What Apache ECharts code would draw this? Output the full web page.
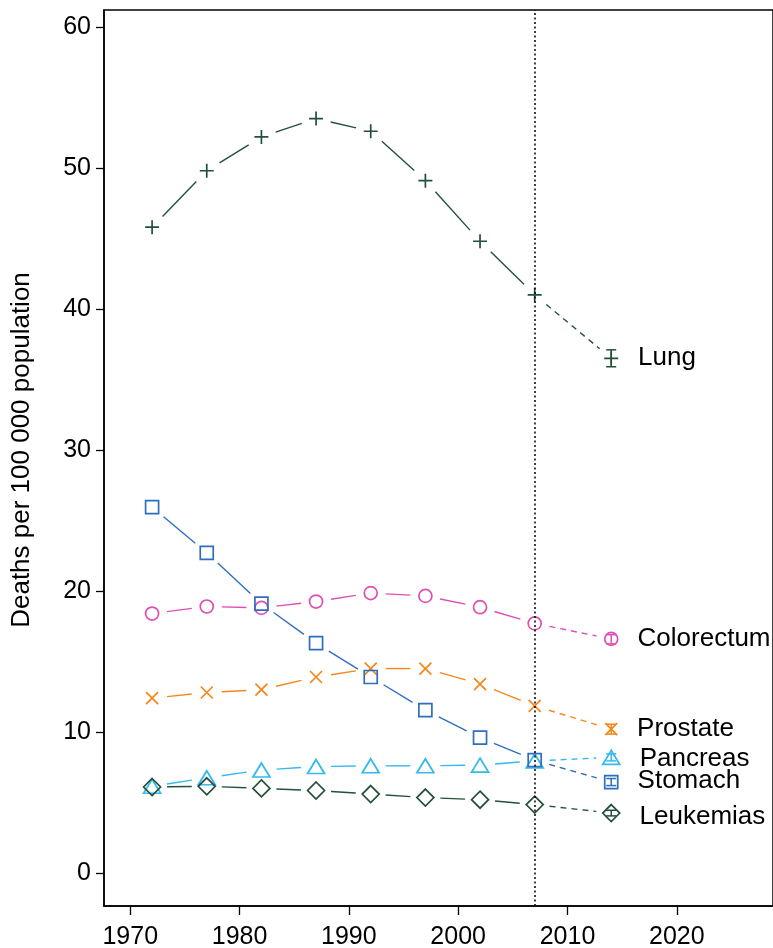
<!doctype html>
<html>
<head>
    <title>Cancer mortality trends</title>
    <script src="https://cdnjs.cloudflare.com/ajax/libs/echarts/6.0.0/echarts.min.js"></script>
</head>
<style>
    html, body {
        margin: 0;
        padding: 0;
        background: #fff;
    }
    #EChartParent {
        width: 773px;
        height: 948px;
    }
</style>
<body>
<div id="EChartParent"></div>
<script>
  // observed years and the projected year
  var years = [1972, 1977, 1982, 1987, 1992, 1997, 2002, 2007];
  var predYear = 2014;
  var xTicks = [1970, 1980, 1990, 2000, 2010, 2020];
  var yTicks = [0, 10, 20, 30, 40, 50, 60];

  var names = ['Lung', 'Colorectum', 'Prostate', 'Pancreas', 'Stomach', 'Leukemias'];

  // deaths per 100 000
  var lung = [45.8, 49.8, 52.2, 53.5, 52.6, 49.1, 44.8, 41.0];
  var colorectum = [18.4, 18.9, 18.8, 19.25, 19.85, 19.65, 18.85, 17.7];
  var prostate = [12.4, 12.8, 13.0, 13.9, 14.5, 14.5, 13.4, 11.85];
  var pancreas = [6.15, 6.75, 7.3, 7.55, 7.6, 7.6, 7.65, 7.95];
  var stomach = [25.95, 22.7, 19.1, 16.3, 13.9, 11.55, 9.6, 8.0];
  var leukemias = [6.1, 6.15, 6.0, 5.85, 5.6, 5.35, 5.2, 4.85];

  // 2014 predictions and their intervals
  var predicted = [36.5, 16.6, 10.2, 8.2, 6.45, 4.25];
  var predLow = [35.9, 16.25, 9.85, 7.95, 6.2, 4.05];
  var predHigh = [37.1, 16.9, 10.55, 8.45, 6.7, 4.45];

  var observed = [lung, colorectum, prostate, pancreas, stomach, leukemias];

  var green = '#23503a';
  var colors = [green, '#de4fb4', '#f5871a', '#35b9ee', '#2f6ebf', green];
  var symbols = [
    'path://M0,6L12,6M6,0L6,12',
    'circle',
    'path://M0,0L10,10M10,0L0,10',
    'triangle',
    'rect',
    'diamond'
  ];
  var sizes = [14, 13, 12, [17, 14], 13, 17];
  var labelShift = [0, 0, 0, 1, -1, 4];
  var gap = 15;

  var font = '"Liberation Sans", Arial, Helvetica, sans-serif';

  var chart = document.getElementById('EChartParent');
  var myChart = echarts.init(chart);

  var series = [];

  names.forEach(function (name, i) {
    var vals = observed[i];
    var pts = years.map(function (y, k) { return [y, vals[k]]; });
    var pred = [predYear, predicted[i]];

    // segments between consecutive points; the last one is the projection
    var segs = [];
    for (var k = 1; k < pts.length; k++) {
      segs.push([pts[k - 1][0], pts[k - 1][1], pts[k][0], pts[k][1], 0]);
    }
    segs.push([pts[pts.length - 1][0], pts[pts.length - 1][1], pred[0], pred[1], 1]);

    series.push({
      name: name,
      type: 'custom',
      z: 2,
      silent: true,
      encode: { x: [0, 2], y: [1, 3] },
      data: segs,
      renderItem: function (params, api) {
        var p = api.coord([api.value(0), api.value(1)]);
        var q = api.coord([api.value(2), api.value(3)]);
        var dx = q[0] - p[0], dy = q[1] - p[1];
        var len = Math.sqrt(dx * dx + dy * dy);
        if (len <= 2 * gap) return null;
        var ux = dx / len, uy = dy / len;
        return {
          type: 'line',
          shape: {
            x1: p[0] + ux * gap, y1: p[1] + uy * gap,
            x2: q[0] - ux * gap, y2: q[1] - uy * gap
          },
          style: {
            stroke: colors[i],
            lineWidth: 1.4,
            lineDash: api.value(4) ? [6, 5] : null
          }
        };
      }
    });
    series.push({
      name: name + ' marks',
      type: 'scatter',
      data: pts,
      symbol: symbols[i],
      symbolSize: sizes[i],
      z: 4,
      silent: true,
      itemStyle: { color: 'rgba(0,0,0,0)', borderColor: colors[i], borderWidth: 1.7, opacity: 1 }
    });
    series.push({
      name: name + ' pred',
      type: 'scatter',
      data: [pred],
      symbol: symbols[i],
      symbolSize: sizes[i],
      z: 4,
      silent: true,
      itemStyle: { color: 'rgba(0,0,0,0)', borderColor: colors[i], borderWidth: 1.7, opacity: 1 },
      label: {
        show: true,
        position: 'right',
        distance: 19,
        offset: [0, labelShift[i]],
        formatter: name,
        color: '#000',
        fontSize: 26,
        fontFamily: font
      }
    });
    series.push({
      name: name + ' ci',
      type: 'custom',
      z: 5,
      silent: true,
      data: [[predYear, predLow[i], predHigh[i]]],
      renderItem: function (params, api) {
        var lo = api.coord([api.value(0), api.value(1)]);
        var hi = api.coord([api.value(0), api.value(2)]);
        var w = 5;
        var st = { stroke: colors[i], lineWidth: 1.5 };
        return {
          type: 'group',
          children: [
            { type: 'line', shape: { x1: lo[0], y1: lo[1], x2: hi[0], y2: hi[1] }, style: st },
            { type: 'line', shape: { x1: lo[0] - w, y1: lo[1], x2: lo[0] + w, y2: lo[1] }, style: st },
            { type: 'line', shape: { x1: hi[0] - w, y1: hi[1], x2: hi[0] + w, y2: hi[1] }, style: st }
          ]
        };
      }
    });
  });

  // vertical reference line at the last observed year
  series.push({
    name: 'ref',
    type: 'line',
    data: [],
    z: 6,
    silent: true,
    markLine: {
      symbol: 'none',
      silent: true,
      label: { show: false },
      lineStyle: { color: '#000', width: 1.5, type: [2, 2.5] },
      data: [{ xAxis: years[years.length - 1] }]
    }
  });

  var option = {
    animation: false,
    backgroundColor: '#fff',
    textStyle: { fontFamily: font },
    grid: {
      left: 104,
      right: 0,
      top: 10,
      bottom: 42,
      containLabel: false,
      outerBoundsMode: 'none',
      show: true,
      borderColor: '#000',
      borderWidth: 1.5
    },
    xAxis: {
      type: 'value',
      min: 1967.6,
      max: 2028.8,
      axisLine: { onZero: false, lineStyle: { color: '#000', width: 1.5 } },
      axisTick: { length: 9, lineStyle: { color: '#000', width: 1.3 }, customValues: xTicks },
      axisLabel: {
        customValues: xTicks,
        color: '#000',
        fontSize: 25,
        margin: 10,
        formatter: function (v) { return String(v); }
      },
      splitLine: { show: false }
    },
    yAxis: {
      type: 'value',
      min: -2.34,
      max: 61.2,
      name: 'Deaths per 100 000 population',
      nameLocation: 'middle',
      nameGap: 60,
      nameTextStyle: { color: '#000', fontSize: 26, padding: [0, 0, 0, 16] },
      axisLine: { onZero: false, lineStyle: { color: '#000', width: 1.5 } },
      axisTick: { length: 8, lineStyle: { color: '#000', width: 1.3 }, customValues: yTicks },
      axisLabel: {
        customValues: yTicks,
        color: '#000',
        fontSize: 25,
        margin: 13,
        formatter: function (v) { return String(v); }
      },
      splitLine: { show: false }
    },
    series: series
  };

  myChart.setOption(option);
</script>
</body>
</html>
